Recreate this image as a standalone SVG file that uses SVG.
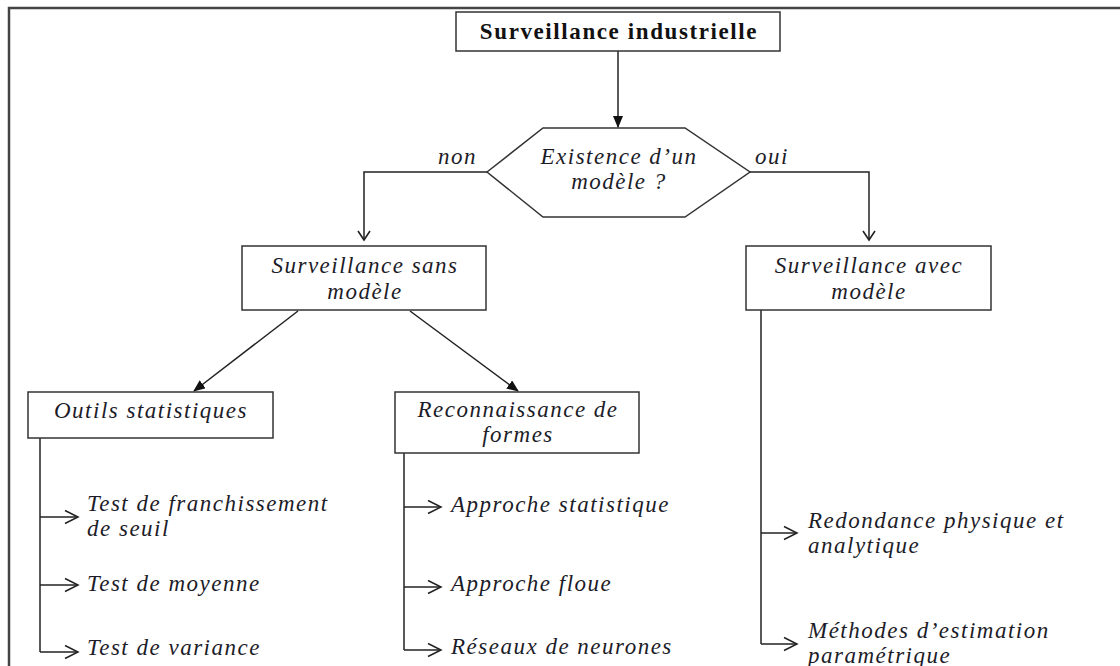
<svg xmlns="http://www.w3.org/2000/svg" width="1120" height="666" viewBox="0 0 1120 666">
  <style>
    .box { fill: #fff; stroke: #333; stroke-width: 1.5; }
    .ln { fill: none; stroke: #222; stroke-width: 1.5; }
    .t { font-family: "Liberation Serif", "Times New Roman", serif; font-style: italic; font-size: 23px; fill: #1c1c28; letter-spacing: 1.5px; }
    .c { text-anchor: middle; }
    .title { font-family: "Liberation Serif", "Times New Roman", serif; font-weight: bold; font-size: 23px; fill: #111; text-anchor: middle; letter-spacing: 1.6px; }
  </style>
  <defs>
    <marker id="fill" markerWidth="12" markerHeight="10" refX="11" refY="5" orient="auto" markerUnits="userSpaceOnUse">
      <path d="M0,0 L12,5 L0,10 Z" fill="#111"/>
    </marker>
    <marker id="open" markerWidth="16" markerHeight="16" refX="14" refY="8" orient="auto" markerUnits="userSpaceOnUse">
      <path d="M1,1.5 L14,8 L1,14.5" fill="none" stroke="#222" stroke-width="1.5"/>
    </marker>
    <marker id="vee" markerWidth="12" markerHeight="14" refX="10" refY="7" orient="auto" markerUnits="userSpaceOnUse">
      <path d="M1,1 L10,7 L1,13" fill="none" stroke="#222" stroke-width="1.6"/>
    </marker>
  </defs>

  <rect x="0" y="0" width="1120" height="666" fill="#fff"/>
  <!-- page frame -->
  <path d="M9,680 L9,8 L1130,8" fill="none" stroke="#444" stroke-width="2.5"/>

  <g id="connectors">
    <line class="ln" x1="618" y1="51" x2="618" y2="127" marker-end="url(#fill)"/>
    <polyline class="ln" points="487,172 364,172 364,240" marker-end="url(#vee)"/>
    <polyline class="ln" points="750,172 869,172 869,240" marker-end="url(#vee)"/>
    <line class="ln" x1="298" y1="311" x2="194" y2="391" marker-end="url(#fill)"/>
    <line class="ln" x1="410" y1="311" x2="518" y2="391" marker-end="url(#fill)"/>
    <!-- outils statistiques branches -->
    <line class="ln" x1="40" y1="438" x2="40" y2="652"/>
    <line class="ln" x1="40" y1="517" x2="78" y2="517" marker-end="url(#open)"/>
    <line class="ln" x1="40" y1="585" x2="78" y2="585" marker-end="url(#open)"/>
    <line class="ln" x1="40" y1="652" x2="78" y2="652" marker-end="url(#open)"/>
    <!-- reconnaissance de formes branches -->
    <line class="ln" x1="404" y1="453" x2="404" y2="650"/>
    <line class="ln" x1="404" y1="507" x2="441" y2="507" marker-end="url(#open)"/>
    <line class="ln" x1="404" y1="587" x2="441" y2="587" marker-end="url(#open)"/>
    <line class="ln" x1="404" y1="650" x2="441" y2="650" marker-end="url(#open)"/>
    <!-- surveillance avec modele branches -->
    <line class="ln" x1="761" y1="310" x2="761" y2="644"/>
    <line class="ln" x1="761" y1="533" x2="797" y2="533" marker-end="url(#open)"/>
    <line class="ln" x1="761" y1="644" x2="797" y2="644" marker-end="url(#open)"/>
  </g>

  <text class="t" x="438" y="164">non</text>
  <text class="t" x="755" y="164">oui</text>

  <g id="surveillance-industrielle">
    <rect class="box" x="456" y="12" width="324" height="39"/>
    <text class="title" x="619" y="39">Surveillance industrielle</text>
  </g>

  <g id="existence-modele">
    <polygon class="box" points="487,172 543,128 685,128 750,172 685,217 543,217"/>
    <text class="t c" x="619" y="164">Existence d’un</text>
    <text class="t c" x="619" y="189">modèle ?</text>
  </g>

  <g id="sans-modele">
    <rect class="box" x="242" y="246" width="244" height="64"/>
    <text class="t c" x="365" y="273">Surveillance sans</text>
    <text class="t c" x="365" y="299">modèle</text>
  </g>

  <g id="avec-modele">
    <rect class="box" x="746" y="246" width="245" height="64"/>
    <text class="t c" x="869" y="273">Surveillance avec</text>
    <text class="t c" x="869" y="299">modèle</text>
  </g>

  <g id="outils-statistiques">
    <rect class="box" x="28" y="392" width="245" height="46"/>
    <text class="t c" x="151" y="418">Outils statistiques</text>
  </g>

  <g id="reconnaissance-formes">
    <rect class="box" x="395" y="392" width="244" height="61"/>
    <text class="t c" x="518" y="417">Reconnaissance de</text>
    <text class="t c" x="518" y="442">formes</text>
  </g>

  <g id="test-franchissement">
    <text class="t" x="87" y="511">Test de franchissement</text>
    <text class="t" x="87" y="536">de seuil</text>
  </g>
  <g id="test-moyenne"><text class="t" x="87" y="591">Test de moyenne</text></g>
  <g id="test-variance"><text class="t" x="87" y="655">Test de variance</text></g>

  <g id="approche-statistique"><text class="t" x="451" y="512">Approche statistique</text></g>
  <g id="approche-floue"><text class="t" x="451" y="591">Approche floue</text></g>
  <g id="reseaux-neurones"><text class="t" x="451" y="654">Réseaux de neurones</text></g>

  <g id="redondance">
    <text class="t" x="808" y="528">Redondance physique et</text>
    <text class="t" x="808" y="553">analytique</text>
  </g>
  <g id="estimation-parametrique">
    <text class="t" x="808" y="638">Méthodes d’estimation</text>
    <text class="t" x="808" y="663">paramétrique</text>
  </g>
</svg>
